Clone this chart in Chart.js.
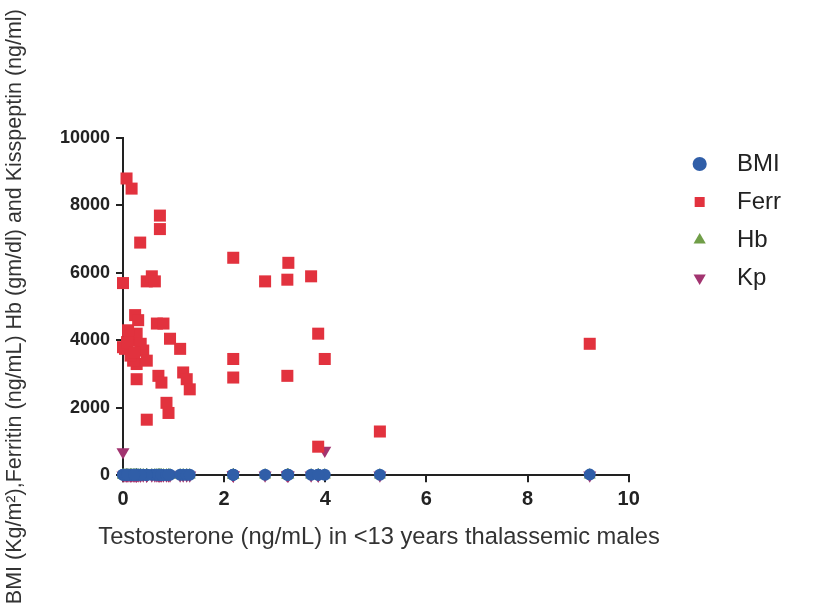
<!DOCTYPE html>
<html lang="en">
<head>
    <meta charset="UTF-8">
    <title>Testosterone scatter</title>
    <script src="https://cdn.jsdelivr.net/npm/chart.js"></script>
    <style>
        body { margin: 0; background: #fff; font-family: 'Liberation Sans', Arial, sans-serif; }
        #wrap { width: 819px; height: 607px; }
    </style>
</head>
<body>
    <div id="wrap">
        <canvas id="scatterChart" width="819" height="607"></canvas>
    </div>

    <script>
        // Testosterone (ng/mL), one value per patient
        const testosterone = [
            0.07, 0.17, 0.34, 0.73, 0.73, 0.00, 0.47, 0.57, 0.63, 2.18,
            2.81, 3.27, 3.25, 3.72, 3.86, 3.99, 2.18, 2.18, 3.25, 3.86,
            5.08, 9.23, 0.24, 0.67, 0.80, 0.93, 1.13, 0.00, 0.27, 0.70,
            0.76, 1.19, 1.26, 1.32, 0.86, 0.90, 0.47, 0.14, 0.27, 0.40,
            0.47, 0.20, 0.27, 0.04, 0.10, 0.30, 0.35, 0.15, 0.08, 0.22
        ];
        // Ferritin (ng/mL)
        const ferritin = [
            8800, 8500, 6900, 7700, 7300, 5700, 5750, 5900, 5750, 6450,
            5750, 6300, 5800, 5900, 4200, 3450, 3450, 2900, 2950, 850,
            1300, 3900, 4750, 4500, 4500, 4050, 3750, 3800, 3300, 2950,
            2750, 3050, 2850, 2550, 2150, 1850, 1650, 4000, 4200, 3700,
            3400, 3400, 2850, 3750, 4300, 4600, 3900, 3550, 3950, 3650
        ];
        // BMI (Kg/m2)
        const bmi = [
            16, 15, 17, 14, 18, 15, 16, 17, 15, 19,
            18, 20, 17, 19, 18, 21, 16, 17, 18, 19,
            20, 22, 15, 16, 14, 17, 16, 15, 15, 16,
            17, 18, 16, 15, 14, 16, 15, 17, 16, 15,
            14, 16, 15, 17, 16, 15, 16, 14, 15, 16
        ];
        // Hb (gm/dl)
        const hb = [
            8.5, 9.1, 7.8, 8.2, 9.4, 8.8, 7.5, 8.9, 9.0, 9.6,
            8.7, 9.2, 8.1, 9.8, 8.4, 9.3, 8.0, 7.9, 9.5, 10.1,
            9.7, 10.4, 8.3, 8.6, 7.7, 9.0, 8.2, 8.8, 7.6, 8.5,
            9.1, 8.4, 7.9, 8.7, 9.2, 8.1, 7.4, 8.9, 8.3, 9.0,
            7.8, 8.6, 8.0, 9.3, 8.2, 8.8, 7.7, 9.1, 8.5, 8.4
        ];
        // Kisspeptin (ng/ml)
        const kisspeptin = [
            1.2, 0.8, 2.1, 1.5, 0.9, 690, 1.8, 2.4, 1.1, 3.0,
            2.2, 1.7, 2.8, 1.9, 2.5, 740, 1.4, 2.0, 1.6, 3.2,
            2.7, 1.3, 0.7, 1.9, 2.3, 1.0, 1.6, 2.1, 0.6, 1.4,
            2.6, 1.8, 1.2, 0.9, 2.0, 1.5, 1.1, 1.7, 2.2, 0.8,
            1.3, 2.4, 1.9, 1.0, 0.5, 1.6, 2.1, 1.2, 0.9, 1.4
        ];

        const xTicks = [0, 2, 4, 6, 8, 10];
        const yTicks = [0, 2000, 4000, 6000, 8000, 10000];
        const seriesNames = ['BMI', 'Ferr', 'Hb', 'Kp'];
        const xTitle = 'Testosterone (ng/mL) in <13 years thalassemic males';
        const yTitle = 'BMI (Kg/m\u00B2),Ferritin (ng/mL) Hb (gm/dl) and Kisspeptin (ng/ml)';

        function toPoints(values) {
            return values.map((v, i) => ({ x: testosterone[i], y: v }));
        }

        const axisColor = '#222';
        const fontFamily = "'Liberation Sans', Arial, Helvetica, sans-serif";

        const data = {
            datasets: [
                {
                    label: seriesNames[0],
                    data: toPoints(bmi),
                    pointStyle: 'circle',
                    pointRadius: 6,
                    backgroundColor: 'rgb(48, 94, 168)',
                    borderColor: 'rgb(48, 94, 168)',
                    borderWidth: 0,
                    clip: false
                },
                {
                    label: seriesNames[1],
                    data: toPoints(ferritin),
                    pointStyle: 'rect',
                    pointRadius: 8.5,
                    backgroundColor: 'rgb(226, 50, 62)',
                    borderColor: 'rgb(226, 50, 62)',
                    borderWidth: 0,
                    clip: false
                },
                {
                    label: seriesNames[2],
                    data: toPoints(hb),
                    pointStyle: 'triangle',
                    pointRadius: 7,
                    backgroundColor: 'rgb(112, 158, 72)',
                    borderColor: 'rgb(112, 158, 72)',
                    borderWidth: 0,
                    clip: false
                },
                {
                    label: seriesNames[3],
                    data: toPoints(kisspeptin),
                    pointStyle: 'triangle',
                    rotation: 180,
                    pointRadius: 7.5,
                    backgroundColor: 'rgb(162, 52, 112)',
                    borderColor: 'rgb(162, 52, 112)',
                    borderWidth: 0,
                    clip: false
                }
            ]
        };

        const config = {
            type: 'scatter',
            data: data,
            options: {
                responsive: false,
                animation: false,
                devicePixelRatio: 1,
                layout: {
                    padding: { left: 0, top: 138, right: 28, bottom: 0 }
                },
                plugins: {
                    tooltip: { enabled: false },
                    // x axis title goes here: the scale title gets squeezed to the plot width
                    title: {
                        display: true,
                        position: 'bottom',
                        align: 'center',
                        // trailing spaces pull the centre back over the plot
                        text: xTitle + '     ',
                        color: '#333',
                        padding: { top: 7.6, bottom: 55.6 },
                        font: { family: fontFamily, size: 23.7, weight: 'normal' }
                    },
                    legend: {
                        position: 'right',
                        align: 'start',
                        labels: {
                            usePointStyle: true,
                            boxWidth: 24,
                            boxHeight: 10,
                            padding: 14,
                            color: '#222',
                            font: { family: fontFamily, size: 24 },
                            // a little gap between the marker and the text
                            generateLabels: function (chart) {
                                const items = Chart.defaults.plugins.legend.labels.generateLabels(chart);
                                items.forEach(it => { it.text = '  ' + it.text; it.lineWidth = 0; });
                                return items;
                            }
                        }
                    }
                },
                scales: {
                    x: {
                        type: 'linear',
                        position: 'bottom',
                        min: xTicks[0],
                        max: xTicks[xTicks.length - 1],
                        afterBuildTicks: function (scale) {
                            scale.ticks = xTicks.map(v => ({ value: v }));
                        },
                        afterFit: function (scale) { scale.height = 40; },
                        border: { display: true, color: axisColor, width: 2 },
                        grid: {
                            display: true,
                            drawOnChartArea: false,
                            drawTicks: true,
                            tickLength: 7,
                            color: axisColor,
                            lineWidth: 2
                        },
                        ticks: {
                            padding: 5,
                            color: '#222',
                            font: { family: fontFamily, size: 20, weight: 'bold' }
                        }
                    },
                    y: {
                        type: 'linear',
                        position: 'left',
                        min: yTicks[0],
                        max: yTicks[yTicks.length - 1],
                        afterBuildTicks: function (scale) {
                            scale.ticks = yTicks.map(v => ({ value: v }));
                        },
                        afterFit: function (scale) { scale.width = 123; },
                        border: { display: true, color: axisColor, width: 2 },
                        grid: {
                            display: true,
                            drawOnChartArea: false,
                            drawTicks: true,
                            tickLength: 7,
                            color: axisColor,
                            lineWidth: 2
                        },
                        ticks: {
                            padding: 6,
                            color: '#222',
                            callback: v => String(v),
                            font: { family: fontFamily, size: 18, weight: 'bold' }
                        },
                        title: {
                            display: true,
                            text: yTitle,
                            color: '#333',
                            padding: { top: 2, bottom: 0 },
                            font: { family: fontFamily, size: 21.5 }
                        }
                    },
                    // empty strip between the plot and the legend
                    gap: {
                        type: 'linear',
                        position: 'right',
                        display: true,
                        afterFit: function (scale) { scale.width = 45; },
                        border: { display: false },
                        grid: { display: false },
                        ticks: { display: false }
                    }
                }
            }
        };

        // make sure the local font is ready before the canvas measures text
        let scatterChart;
        Promise.all([
            document.fonts.load("24px 'Liberation Sans'"),
            document.fonts.load("bold 20px 'Liberation Sans'")
        ]).catch(() => null).then(() => {
            scatterChart = new Chart(document.getElementById('scatterChart'), config);
        });
    </script>
</body>
</html>
